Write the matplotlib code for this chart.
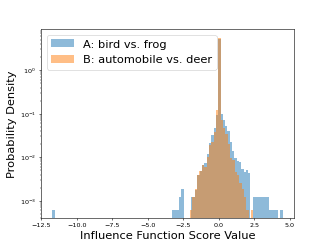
import numpy as np
import matplotlib
matplotlib.use('Agg')
import matplotlib.pyplot as plt
from matplotlib.ticker import MultipleLocator

# bin grid of each histogram (range and number of bins)
blue_range = (-11.73, 4.52)
blue_nbins = 100
orange_range = (-2.01, 2.44)
orange_nbins = 27

# probability density per bin
blue_density = ([6.1e-4] + [0.0] * 51 +
                [6.1e-4, 6.1e-4, 6.1e-4, 1.22e-3, 1.83e-3, 0.0, 0.0, 0.0,
                 1.22e-3, 1.22e-3, 1.8e-3, 3.8e-3, 4.9e-3, 6.5e-3, 7.3e-3,
                 0.012, 0.021, 0.032, 0.046, 0.094, 5.3, 0.10, 0.071, 0.052,
                 0.041, 0.022, 0.014, 0.0095, 0.008, 0.0077, 0.0055, 0.0045,
                 0.005, 0.0043, 0.0,
                 1.22e-3, 1.22e-3, 1.22e-3, 1.22e-3, 1.22e-3, 1.22e-3, 1.22e-3,
                 6.1e-4, 6.1e-4, 6.1e-4, 6.1e-4, 0.0, 6.1e-4])
orange_density = [6.1e-4, 1.2e-3, 1.9e-3, 3.8e-3, 4.9e-3, 6.5e-3, 6.0e-3,
                  0.010, 0.019, 0.022, 0.038, 0.12, 5.6, 0.071, 0.046, 0.035,
                  0.020, 0.0095, 0.0085, 0.0045, 0.0038, 0.0025, 0.0019,
                  0.0012, 6.1e-4, 0.0, 6.1e-4]

labels = ['A: bird vs. frog', 'B: automobile vs. deer']

blue_edges = np.linspace(*blue_range, blue_nbins + 1)
orange_edges = np.linspace(*orange_range, orange_nbins + 1)

fig, ax = plt.subplots(figsize=(6.4, 4.8), dpi=51.1)
ax.hist(blue_edges[:-1], bins=blue_edges, weights=blue_density,
        alpha=0.5, log=True, label=labels[0])
ax.hist(orange_edges[:-1], bins=orange_edges, weights=orange_density,
        alpha=0.5, log=True, label=labels[1])

ax.set_xlim(-12.54, 5.34)
ax.set_ylim(4e-4, 8.8)
ax.xaxis.set_major_locator(MultipleLocator(2.5))
ax.tick_params(labelsize=9)
ax.set_xlabel('Influence Function Score Value', fontsize=16)
ax.set_ylabel('Probability Density', fontsize=16)
ax.legend(loc='upper left', fontsize=16)

fig.savefig('out.png', dpi=51.1)
